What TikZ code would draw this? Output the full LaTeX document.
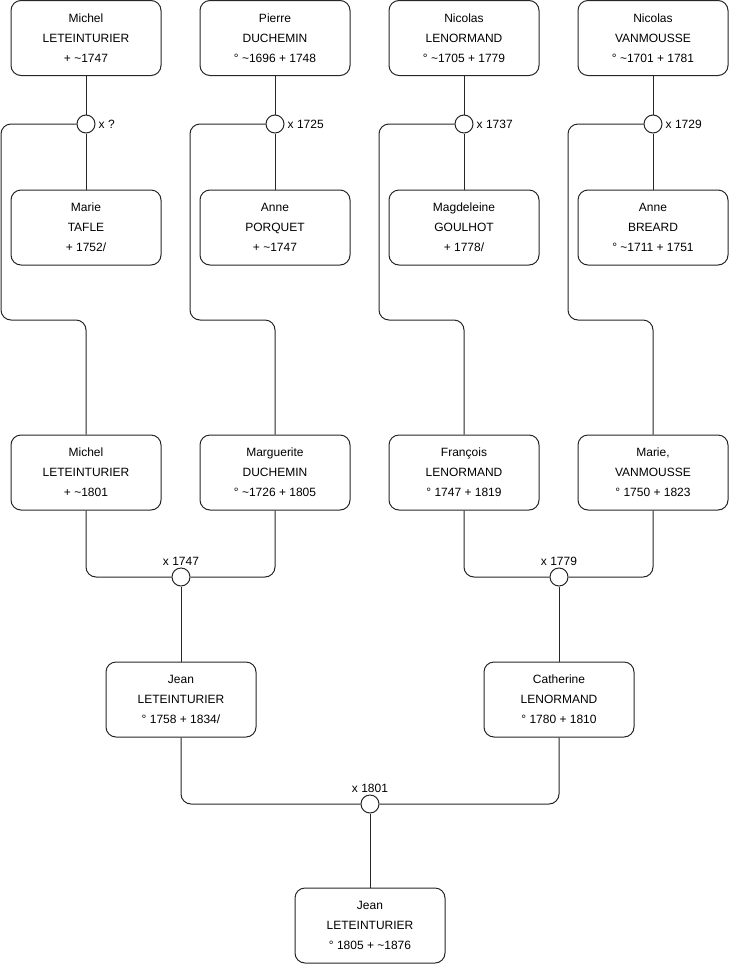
\documentclass[tikz,border=0pt]{standalone}
\usepackage{fontspec}
\setmainfont{Liberation Sans}
\usepackage{tikz}
\usetikzlibrary{positioning}
\tikzset{person/.style={draw=black!85, line width=1pt, rounded corners=10pt,
        minimum width=150pt, minimum height=75pt, align=center,
        font=\fontsize{12}{20}\selectfont},
    ring/.style={draw=black!85, line width=1pt, circle, fill=white,
        minimum size=18pt, inner sep=0pt},
    link/.style={black!85, line width=1pt},
    spouse/.style={black!85, line width=1pt, rounded corners=10pt},
    wed/.style={font=\fontsize{12}{14}\selectfont, inner sep=1pt},
}

\begin{document}
\begin{tikzpicture}[x=1pt,y=-1pt]
		\useasboundingbox (0,0) rectangle (740,975);
		% generation 1
		\node[person] (p1) at (86,38) {Michel\\LETEINTURIER\\+ \textasciitilde1747};
		\node[person] (p2) at (275,38) {Pierre\\DUCHEMIN\\° \textasciitilde1696 + 1748};
		\node[person] (p3) at (464,38) {Nicolas\\LENORMAND\\° \textasciitilde1705 + 1779};
		\node[person] (p4) at (653,38) {Nicolas\\VANMOUSSE\\° \textasciitilde1701 + 1781};
		\node[person] (m1) at (86,227.5) {Marie\\TAFLE\\+ 1752/};
		\node[person] (m2) at (275,227.5) {Anne\\PORQUET\\+ \textasciitilde1747};
		\node[person] (m3) at (464,227.5) {Magdeleine\\GOULHOT\\+ 1778/};
		\node[person] (m4) at (653,227.5) {Anne\\BREARD\\° \textasciitilde1711 + 1751};
		\node[ring] (r1) at (86,124) {};
		\node[ring] (r2) at (275,124) {};
		\node[ring] (r3) at (464,124) {};
		\node[ring] (r4) at (653,124) {};
		\node[wed, right=2pt of r1] {x ?};
		\node[wed, right=2pt of r2] {x 1725};
		\node[wed, right=2pt of r3] {x 1737};
		\node[wed, right=2pt of r4] {x 1729};
		% generation 2
		\node[person] (c1) at (86,472.5) {Michel\\LETEINTURIER\\+ \textasciitilde1801};
		\node[person] (c2) at (275,472.5) {Marguerite\\DUCHEMIN\\° \textasciitilde1726 + 1805};
		\node[person] (c3) at (464,472.5) {François\\LENORMAND\\° 1747 + 1819};
		\node[person] (c4) at (653,472.5) {Marie,\\VANMOUSSE\\° 1750 + 1823};
		% generation 3
		\node[person] (g1) at (181,699.5) {Jean\\LETEINTURIER\\° 1758 + 1834/};
		\node[person] (g2) at (559,699.5) {Catherine\\LENORMAND\\° 1780 + 1810};
		\node[ring] (s1) at (181,577) {};
		\node[ring] (s2) at (559,577) {};
		\node[wed, above=1pt of s1] {x 1747};
		\node[wed, above=1pt of s2] {x 1779};
		% generation 4
		\node[person] (k) at (370,925.5) {Jean\\LETEINTURIER\\° 1805 + \textasciitilde1876};
		\node[ring] (s3) at (370,804) {};
		\node[wed, above=1pt of s3] {x 1801};
		% top couples
		\foreach \i in {1,...,4} {
			\draw[link] (p\i) -- (r\i);
			\draw[link] (r\i) -- (m\i);
		}
		\draw[spouse] (r1.west) -| (1,320) -| (c1.north);
		\draw[spouse] (r2.west) -| (190,320) -| (c2.north);
		\draw[spouse] (r3.west) -| (379,320) -| (c3.north);
		\draw[spouse] (r4.west) -| (568,320) -| (c4.north);
		% lower couples
		\draw[spouse] (c1.south) |- (s1.west);
		\draw[spouse] (c2.south) |- (s1.east);
		\draw[spouse] (c3.south) |- (s2.west);
		\draw[spouse] (c4.south) |- (s2.east);
		\draw[link] (s1) -- (g1);
		\draw[link] (s2) -- (g2);
		\draw[spouse] (g1.south) |- (s3.west);
		\draw[spouse] (g2.south) |- (s3.east);
		\draw[link] (s3) -- (k);
\end{tikzpicture}
\end{document}
